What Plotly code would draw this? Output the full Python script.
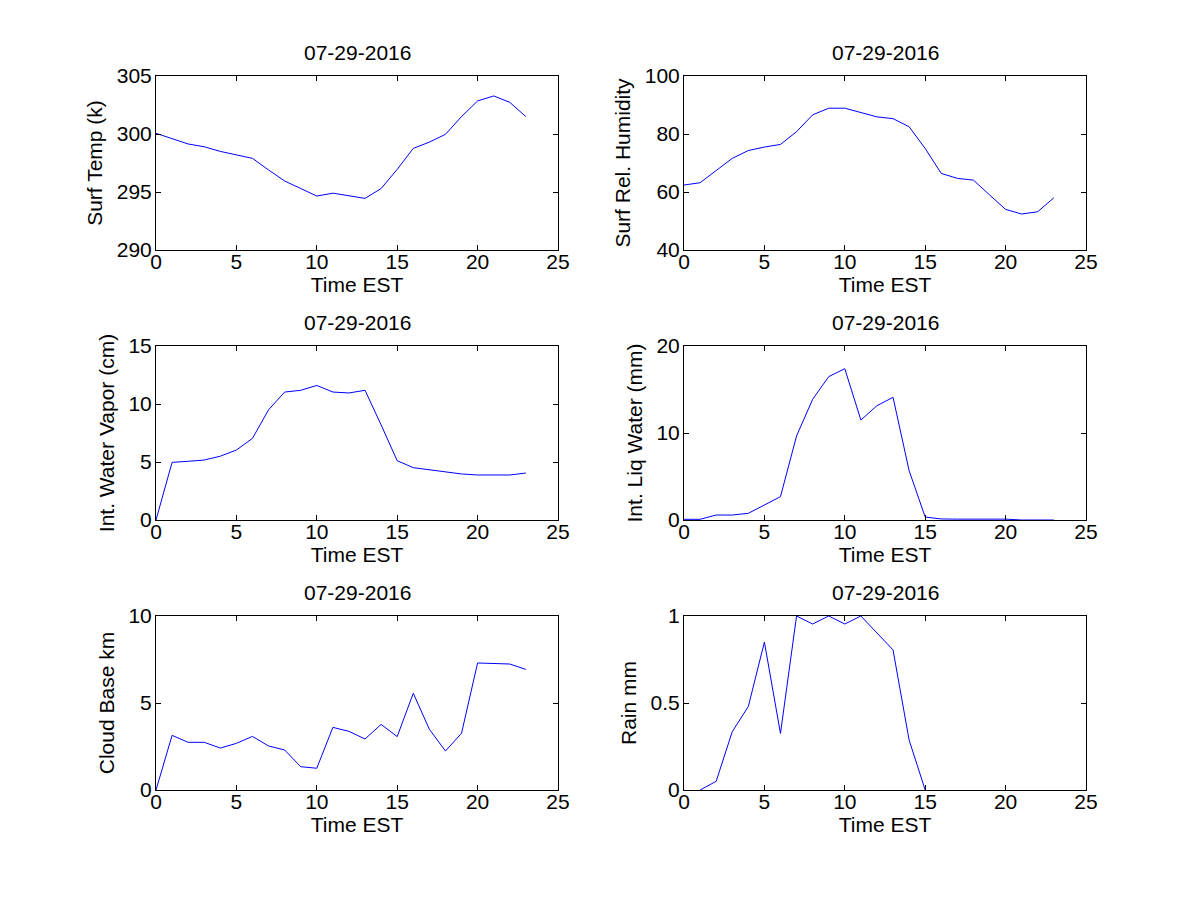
import plotly.graph_objects as go

hours = list(range(24))

surf_temp = [300.06, 299.6, 299.14, 298.9, 298.5, 298.2, 297.9, 296.9, 295.95, 295.3,
             294.65, 294.9, 294.65, 294.45, 295.3, 296.95, 298.76, 299.3, 299.97, 301.5,
             302.85, 303.28, 302.73, 301.5]
surf_rh = [62.4, 63.2, 67.4, 71.6, 74.3, 75.5, 76.4, 80.8, 86.6, 88.9,
           88.9, 87.5, 85.9, 85.3, 82.5, 75.0, 66.4, 64.7, 64.1, 59.0,
           54.0, 52.4, 53.2, 58.0]
water_vapor = [0.0, 4.97, 5.06, 5.17, 5.5, 6.03, 7.04, 9.5, 11.03, 11.18,
               11.6, 11.03, 10.95, 11.18, 8.2, 5.11, 4.51, 4.31, 4.14, 3.97,
               3.88, 3.85, 3.88, 4.05]
liq_water = [0.08, 0.08, 0.57, 0.57, 0.77, 1.72, 2.68, 9.66, 13.87, 16.48,
             17.39, 11.49, 13.14, 14.1, 5.67, 0.34, 0.12, 0.1, 0.1, 0.1,
             0.1, 0.0, 0.0, 0.0]
cloud_base = [0.0, 3.14, 2.74, 2.74, 2.41, 2.68, 3.08, 2.53, 2.3, 1.34,
              1.25, 3.6, 3.37, 2.93, 3.77, 3.07, 5.56, 3.49, 2.24, 3.26,
              7.3, 7.26, 7.24, 6.93]
rain = [None, 0.0, 0.05, 0.335, 0.48, 0.85, 0.325, 1.0, 0.954, 1.0,
        0.954, 1.0, 0.9, 0.805, 0.287, 0.0, None, None, None, None,
        None, None, None, None]

date_title = "07-29-2016"
x_label = "Time EST"
y_labels = ["Surf Temp (k)", "Surf Rel. Humidity", "Int. Water Vapor (cm)",
            "Int. Liq Water (mm)", "Cloud Base km", "Rain mm"]
series = [surf_temp, surf_rh, water_vapor, liq_water, cloud_base, rain]
y_ranges = [[290, 305], [40, 100], [0, 15], [0, 20], [0, 10], [0, 1]]
y_ticks = [[290, 295, 300, 305], [40, 60, 80, 100], [0, 5, 10, 15],
           [0, 10, 20], [0, 5, 10], [0, 0.5, 1]]
x_ticks = [0, 5, 10, 15, 20, 25]

W, H = 1200, 900
OFF = 8  # page body margin offset
col_px = [(156 - OFF, 558 - OFF), (684 - OFF, 1086 - OFF)]
row_px = [(76 - OFF, 250 - OFF), (346 - OFF, 520 - OFF), (616 - OFF, 790 - OFF)]

FONT = "Liberation Sans, Arial, sans-serif"
FS = 21

fig = go.Figure()
layout = dict(
    width=W, height=H,
    margin=dict(l=0, r=0, t=0, b=0, autoexpand=False),
    paper_bgcolor="white", plot_bgcolor="white",
    showlegend=False,
    font=dict(family=FONT, size=FS, color="black"),
)
annotations = []
for i in range(6):
    r, c = divmod(i, 2)
    n = i + 1
    xa = "xaxis" if n == 1 else f"xaxis{n}"
    ya = "yaxis" if n == 1 else f"yaxis{n}"
    xref = "x" if n == 1 else f"x{n}"
    yref = "y" if n == 1 else f"y{n}"
    x0, x1 = col_px[c]
    y0, y1 = row_px[r]
    fig.add_trace(go.Scatter(x=hours, y=series[i], mode="lines",
                             line=dict(color="#0000ff", width=1),
                             xaxis=xref, yaxis=yref, connectgaps=False))
    common = dict(showline=True, linecolor="black", linewidth=1, mirror="ticks",
                  ticks="inside", ticklen=5, tickwidth=1, tickcolor="black",
                  showgrid=False, zeroline=False, automargin=False,
                  tickfont=dict(family=FONT, size=FS, color="black"))
    layout[xa] = dict(common, domain=[x0 / W, x1 / W], range=[0, 25],
                      tickvals=x_ticks, anchor=yref, ticklabelstandoff=-7,
                      title=dict(text=x_label, standoff=0,
                                 font=dict(family=FONT, size=FS, color="black")))
    layout[ya] = dict(common, domain=[1 - y1 / H, 1 - y0 / H], range=y_ranges[i],
                      tickvals=y_ticks[i], anchor=xref, ticklabelstandoff=-1,
                      title=dict(text=y_labels[i], standoff=8,
                                 font=dict(family=FONT, size=FS, color="black")))
    annotations.append(dict(text=date_title, xref="paper", yref="paper",
                            x=(x0 + x1) / 2 / W, y=1 - y0 / H,
                            xanchor="center", yanchor="bottom", yshift=10,
                            showarrow=False,
                            font=dict(family=FONT, size=FS, color="black")))
layout["annotations"] = annotations
fig.update_layout(**layout)
fig.write_html("out.html")
